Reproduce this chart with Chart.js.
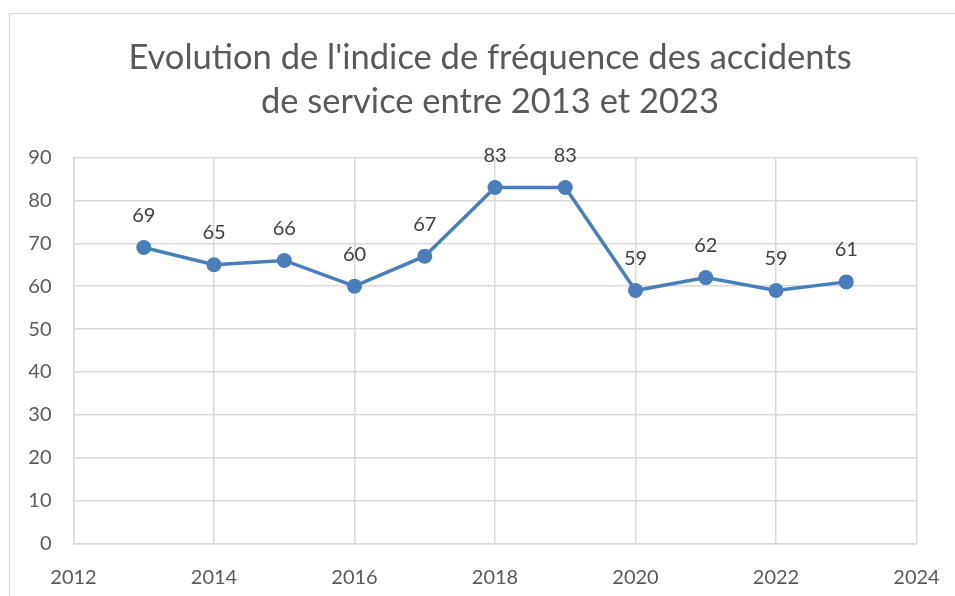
<!DOCTYPE html>
<html>
<head>
<meta charset="utf-8">
<script src="https://cdn.jsdelivr.net/npm/chart.js@4.4.1/dist/chart.umd.min.js"></script>
<style>
  body { margin: 0; background: #fff; overflow: hidden; }
  #cadre { position: absolute; left: 9px; top: 13px; width: 980px; height: 620px; border: 1px solid #d9d9d9; }
  #graph { position: absolute; left: 0; top: 0; }
</style>
</head>
<body>
<div id="cadre"></div>
<canvas id="graph" width="955" height="596"></canvas>
<script>
// donnees
const annees = [2013, 2014, 2015, 2016, 2017, 2018, 2019, 2020, 2021, 2022, 2023];
const indices = [69, 65, 66, 60, 67, 83, 83, 59, 62, 59, 61];
const titre = ["Evolution de l'indice de fréquence des accidents", "de service entre 2013 et 2023"];

const bleu = '#4a7ebb';
const gris = '#595959';
const grille = '#d9d9d9';
const police = 'Lato, "Open Sans", sans-serif';

// titre centre sur le cadre (comme dans excel), pas sur la zone du graphique
const titrePlugin = {
  id: 'titrePlugin',
  afterDraw(chart) {
    const ctx = chart.ctx;
    ctx.save();
    ctx.font = '34.5px ' + police;
    ctx.fillStyle = gris;
    ctx.textAlign = 'center';
    ctx.textBaseline = 'alphabetic';
    ctx.fillText(titre[0], 490, 69);
    ctx.fillText(titre[1], 490, 113);
    ctx.restore();
  }
};

// petit plugin pour ecrire la valeur au dessus de chaque point
const etiquettes = {
  id: 'etiquettes',
  afterDatasetsDraw(chart) {
    const ctx = chart.ctx;
    const meta = chart.getDatasetMeta(0);
    ctx.save();
    ctx.font = '20px ' + police;
    ctx.fillStyle = '#404040';
    ctx.textAlign = 'center';
    ctx.textBaseline = 'middle';
    meta.data.forEach((pt, i) => {
      ctx.fillText(indices[i], pt.x, pt.y - 32);
    });
    ctx.restore();
  }
};

const points = annees.map((a, i) => ({ x: a, y: indices[i] }));

const ctx = document.getElementById('graph').getContext('2d');
new Chart(ctx, {
  type: 'line',
  data: {
    datasets: [{
      data: points,
      borderColor: bleu,
      backgroundColor: bleu,
      borderWidth: 3.5,
      pointRadius: 7.5,
      pointHoverRadius: 7.5,
      pointBorderWidth: 0,
      tension: 0
    }]
  },
  options: {
    responsive: false,
    animation: false,
    events: [],
    layout: { padding: { left: 0, right: 38.5, top: 157.5, bottom: 0 } },
    plugins: {
      legend: { display: false },
      tooltip: { enabled: false },
      title: { display: false }
    },
    scales: {
      x: {
        type: 'linear',
        min: 2012,
        max: 2024,
        ticks: { stepSize: 2, color: gris, padding: 22, font: { family: police, size: 20 }, callback: v => String(v) },
        grid: { color: grille, lineWidth: 1.5, drawTicks: false },
        border: { color: grille, width: 1.5 },
        afterFit: s => { s.height = 52.5; s.paddingLeft = 0; s.paddingRight = 0; }
      },
      y: {
        min: 0,
        max: 90,
        ticks: { stepSize: 10, color: gris, padding: 22, font: { family: police, size: 20 } },
        grid: { color: grille, lineWidth: 1.5, drawTicks: false },
        border: { color: grille, width: 1.5 },
        afterFit: s => { s.width = 73.5; s.paddingTop = 0; s.paddingBottom = 0; }
      }
    }
  },
  plugins: [titrePlugin, etiquettes]
});
</script>
</body>
</html>
